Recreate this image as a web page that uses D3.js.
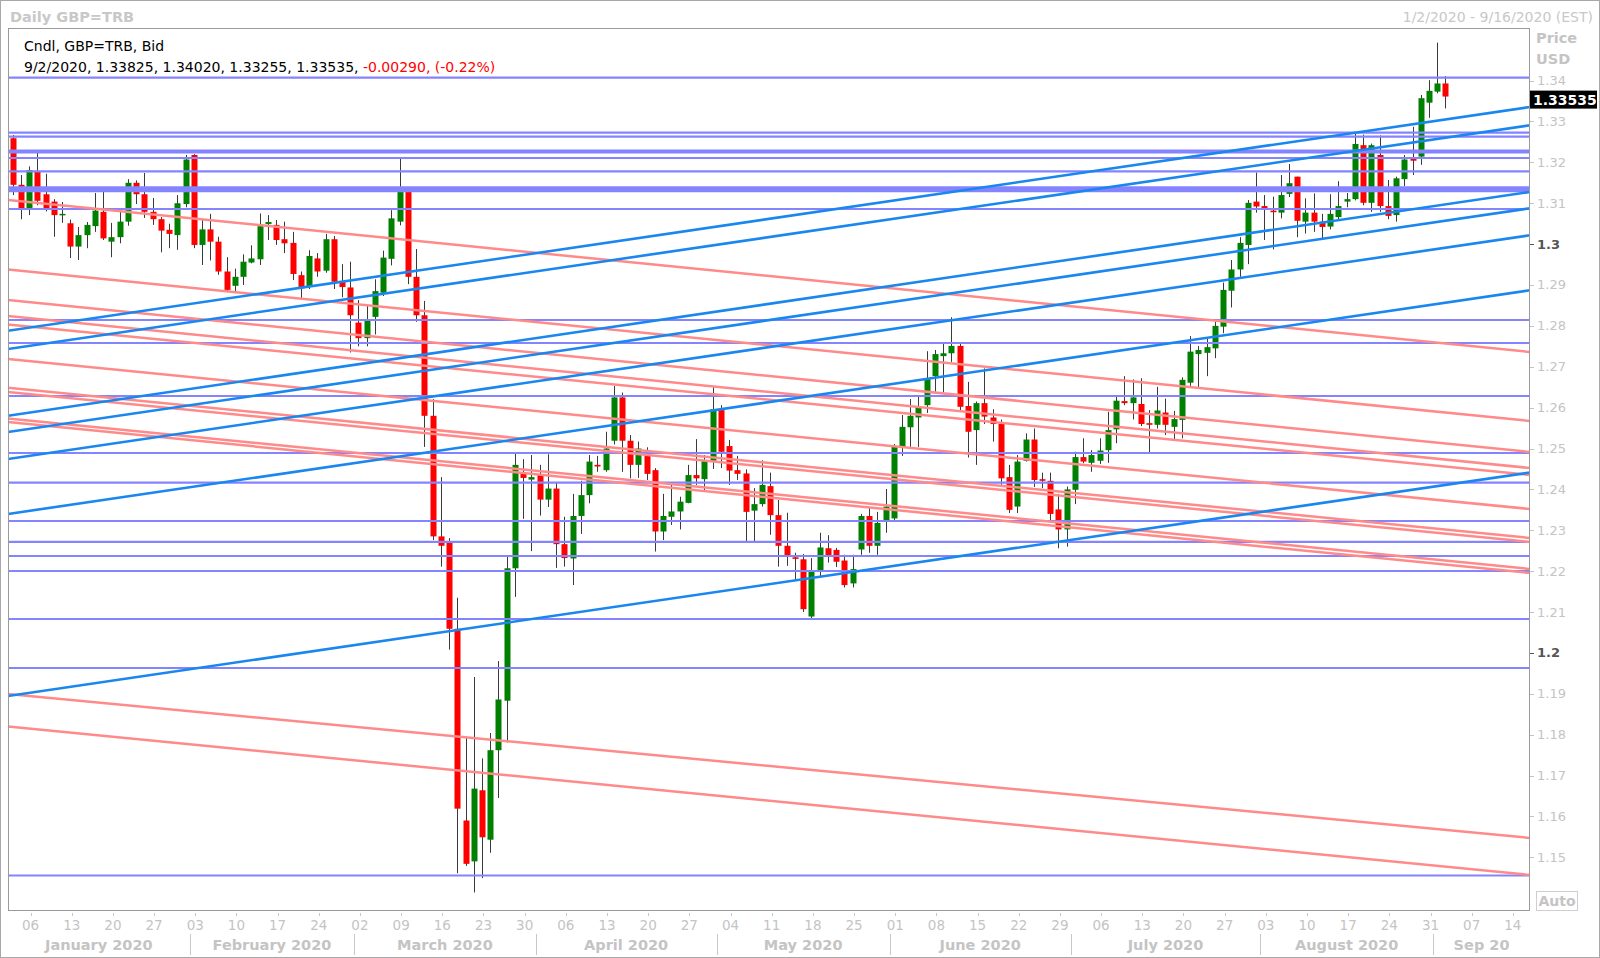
<!DOCTYPE html>
<html><head><meta charset="utf-8">
<script src="https://cdn.jsdelivr.net/npm/d3@7"></script>
<style>html,body{margin:0;padding:0;background:#fff;} svg{display:block;}</style>
</head><body>
<svg id="chart" width="1600" height="958"></svg>
<script>
// ---------------- DATA ----------------
const firstDay = "2020-01-02";
const lastAxisDay = "2020-09-16";
const open = [1.3259,1.3145,1.3086,1.3179,1.3122,1.3104,1.3071,1.3051,1.2994,1.3022,
1.3044,1.3079,1.3006,1.3017,1.3055,1.3150,1.3122,1.3079,1.3061,1.3035,
1.3022,1.3098,1.3218,1.2998,1.3036,1.3006,1.2933,1.2898,1.2920,1.2955,
1.2963,1.3049,1.3047,1.3012,1.3003,1.2924,1.2896,1.2965,1.2935,1.3012,
1.2907,1.2894,1.2808,1.2770,1.2822,1.2881,1.2964,1.3055,1.3128,1.2920,
1.2826,1.2580,1.2285,1.2269,1.2059,1.1590,1.1490,1.1664,1.1543,1.1762,
1.1883,1.2207,1.2442,1.2424,1.2437,1.2375,1.2402,1.2266,1.2231,1.2335,
1.2386,1.2460,1.2447,1.2519,1.2625,1.2519,1.2460,1.2484,1.2447,1.2297,
1.2333,1.2346,1.2367,1.2435,1.2425,1.2470,1.2594,1.2506,1.2447,1.2439,
1.2348,1.2364,1.2408,1.2337,1.2262,1.2234,1.2229,1.2089,1.2199,1.2256,
1.2252,1.2226,1.2170,1.2253,1.2335,1.2262,1.2325,1.2329,1.2504,1.2552,
1.2576,1.2606,1.2677,1.2726,1.2733,1.2751,1.2604,1.2545,1.2611,1.2576,
1.2560,1.2430,1.2358,1.2470,1.2522,1.2425,1.2421,1.2351,1.2302,1.2399,
1.2479,1.2465,1.2470,1.2496,1.2547,1.2616,1.2611,1.2609,1.2562,1.2558,
1.2588,1.2553,1.2570,1.2661,1.2731,1.2734,1.2745,1.2798,1.2886,1.2938,
1.2998,1.3104,1.3093,1.3082,1.3077,1.3123,1.3165,1.3055,1.3077,1.3055,
1.3043,1.3066,1.3104,1.3110,1.3242,1.3101,1.3218,1.3093,1.3071,1.3159,
1.3210,1.3214,1.3346,1.3373,1.3393];
const high = [1.3267,1.3169,1.3190,1.3223,1.3172,1.3110,1.3103,1.3060,1.3042,1.3054,
1.3125,1.3128,1.3052,1.3088,1.3159,1.3156,1.3174,1.3113,1.3066,1.3050,
1.3120,1.3218,1.3220,1.3059,1.3074,1.3018,1.2968,1.2940,1.2975,1.2997,
1.3075,1.3071,1.3059,1.3055,1.3030,1.2933,1.2985,1.2978,1.3025,1.3020,
1.2951,1.2957,1.2863,1.2849,1.2914,1.2984,1.3083,1.3213,1.3130,1.2988,
1.2861,1.2621,1.2430,1.2281,1.2135,1.1795,1.1941,1.1742,1.1804,1.1980,
1.2238,1.2489,1.2474,1.2484,1.2460,1.2486,1.2416,1.2333,1.2389,1.2421,
1.2484,1.2482,1.2541,1.2653,1.2637,1.2533,1.2517,1.2503,1.2452,1.2389,
1.2411,1.2382,1.2460,1.2523,1.2484,1.2650,1.2606,1.2521,1.2482,1.2449,
1.2403,1.2471,1.2441,1.2374,1.2343,1.2245,1.2242,1.2232,1.2294,1.2288,
1.2257,1.2240,1.2240,1.2340,1.2355,1.2345,1.2401,1.2511,1.2582,1.2621,
1.2626,1.2738,1.2741,1.2757,1.2821,1.2757,1.2663,1.2615,1.2696,1.2596,
1.2571,1.2460,1.2484,1.2537,1.2549,1.2441,1.2441,1.2389,1.2407,1.2492,
1.2525,1.2496,1.2525,1.2590,1.2627,1.2677,1.2669,1.2672,1.2594,1.2651,
1.2622,1.2592,1.2674,1.2775,1.2751,1.2770,1.2810,1.2906,1.2961,1.3017,
1.3108,1.3175,1.3120,1.3116,1.3169,1.3196,1.3165,1.3112,1.3124,1.3074,
1.3122,1.3154,1.3125,1.3270,1.3268,1.3246,1.3266,1.3157,1.3165,1.3218,
1.3287,1.3365,1.3401,1.3493,1.3411];
const low = [1.3120,1.3061,1.3071,1.3095,1.3080,1.3018,1.3052,1.2966,1.2961,1.2990,
1.3030,1.3010,1.2968,1.3002,1.3045,1.3098,1.3064,1.3047,1.2980,1.2990,
1.2986,1.3090,1.2990,1.2949,1.2960,1.2925,1.2883,1.2880,1.2900,1.2953,
1.2949,1.3010,1.2998,1.2978,1.2912,1.2867,1.2890,1.2920,1.2930,1.2890,
1.2870,1.2735,1.2750,1.2750,1.2779,1.2873,1.2948,1.3046,1.2902,1.2810,
1.2504,1.2276,1.2211,1.2008,1.1461,1.1479,1.1414,1.1449,1.1511,1.1645,
1.1781,1.2137,1.2328,1.2249,1.2336,1.2357,1.2208,1.2211,1.2166,1.2291,
1.2366,1.2443,1.2443,1.2510,1.2443,1.2427,1.2428,1.2423,1.2248,1.2276,
1.2313,1.2302,1.2366,1.2411,1.2397,1.2450,1.2452,1.2411,1.2423,1.2272,
1.2272,1.2358,1.2289,1.2211,1.2213,1.2178,1.2100,1.2085,1.2184,1.2221,
1.2210,1.2160,1.2160,1.2240,1.2245,1.2240,1.2294,1.2320,1.2482,1.2504,
1.2504,1.2587,1.2639,1.2638,1.2712,1.2590,1.2478,1.2460,1.2560,1.2517,
1.2411,1.2342,1.2342,1.2468,1.2406,1.2403,1.2325,1.2256,1.2260,1.2364,
1.2464,1.2443,1.2462,1.2465,1.2513,1.2606,1.2571,1.2555,1.2490,1.2549,
1.2533,1.2519,1.2525,1.2653,1.2650,1.2677,1.2721,1.2782,1.2845,1.2920,
1.2951,1.3077,1.3010,1.2987,1.3063,1.3115,1.3017,1.3026,1.3030,1.3014,
1.3036,1.3059,1.3090,1.3107,1.3095,1.3079,1.3079,1.3061,1.3055,1.3142,
1.3169,1.3194,1.3309,1.3369,1.3332];
const close = [1.3145,1.3088,1.3181,1.3106,1.3088,1.3071,1.3074,1.2994,1.3022,1.3047,
1.3082,1.3014,1.3017,1.3055,1.3150,1.3122,1.3079,1.3061,1.3033,1.3025,
1.3100,1.3207,1.2998,1.3036,1.3006,1.2933,1.2888,1.2920,1.2957,1.2965,
1.3044,1.3054,1.3010,1.3002,1.2927,1.2892,1.2971,1.2933,1.3012,1.2908,
1.2895,1.2826,1.2770,1.2814,1.2885,1.2967,1.3063,1.3128,1.2920,1.2826,
1.2580,1.2285,1.2262,1.2059,1.1619,1.1484,1.1668,1.1549,1.1762,1.1886,
1.2207,1.2460,1.2428,1.2430,1.2375,1.2402,1.2266,1.2232,1.2335,1.2386,
1.2468,1.2456,1.2500,1.2625,1.2519,1.2460,1.2500,1.2438,1.2297,1.2335,
1.2346,1.2370,1.2435,1.2427,1.2472,1.2596,1.2492,1.2446,1.2438,1.2345,
1.2364,1.2411,1.2337,1.2262,1.2236,1.2230,1.2107,1.2199,1.2258,1.2237,
1.2223,1.2166,1.2205,1.2335,1.2262,1.2318,1.2358,1.2504,1.2553,1.2580,
1.2601,1.2669,1.2731,1.2733,1.2751,1.2602,1.2541,1.2611,1.2578,1.2560,
1.2427,1.2350,1.2468,1.2522,1.2423,1.2421,1.2340,1.2302,1.2400,1.2479,
1.2468,1.2484,1.2495,1.2545,1.2617,1.2611,1.2625,1.2560,1.2558,1.2593,
1.2558,1.2572,1.2668,1.2737,1.2741,1.2748,1.2800,1.2888,1.2938,1.3003,
1.3101,1.3092,1.3088,1.3078,1.3120,1.3149,1.3057,1.3077,1.3055,1.3042,
1.3074,1.3093,1.3110,1.3245,1.3101,1.3242,1.3093,1.3069,1.3161,1.3207,
1.3204,1.3357,1.3375,1.3393,1.3361];

const priceTicks = [1.34,1.33,1.32,1.31,1.30,1.29,1.28,1.27,1.26,1.25,1.24,1.23,1.22,1.21,1.20,1.19,1.18,1.17,1.16,1.15];
const boldTicks = [1.30, 1.20];
const monthNames = ["January 2020","February 2020","March 2020","April 2020","May 2020","June 2020","July 2020","August 2020","Sep 20"];

// horizontal support / resistance levels
const hLevels = [1.34073,1.32726,1.32628,1.32107,1.31779,1.30859,1.28144,1.27581,1.26285,1.24890,1.24166,1.23227,1.22718,1.22371,1.22004,1.20830,1.19631,1.14555];
const hBands = [1.32266, 1.31343];

// trend lines: price at first day (Jan 2) and at last axis day (Sep 16)
const blueStart = [1.27897,1.27452,1.25818,1.25421,1.24761,1.23415,1.18963];
const blueEnd   = [1.33347,1.32899,1.31268,1.30869,1.30208,1.28863,1.24406];
const redStart  = [1.31067,1.29369,1.28621,1.28229,1.28022,1.27178,1.26473,1.26370,1.25725,1.25637,1.18985,1.18188];
const redEnd    = [1.27366,1.25678,1.24920,1.24528,1.24357,1.23525,1.22816,1.22718,1.22058,1.21960,1.15478,1.14573];

const titleText = "Daily GBP=TRB";
const rangeText = "1/2/2020 - 9/16/2020 (EST)";
const legend1 = "Cndl, GBP=TRB, Bid";
const legend2 = "9/2/2020, 1.33825, 1.34020, 1.33255, 1.33535, ";
const legendChange = "-0.00290, (-0.22%)";
const lastPriceText = "1.33535";
const lastPrice = 1.33535;

// ---------------- LAYOUT ----------------
const W = 1600, H = 958;
const plot = {l: 8, r: 1530, t: 28, b: 910};
const slot = 8.235;
const FONT = "DejaVu Sans, Verdana, sans-serif";
const svg = d3.select("#chart");

const parse = d3.utcParse("%Y-%m-%d");
const fmt = d3.utcFormat("%Y-%m-%d");
const days = d3.utcDay.range(parse(firstDay), d3.utcDay.offset(parse(lastAxisDay), 1))
  .filter(d => d.getUTCDay() !== 0 && d.getUTCDay() !== 6);
const x = d3.scaleBand().domain(days.map(fmt)).range([8.48, 8.48 + days.length * slot]).padding(0);
const bw = x.bandwidth();
const cx = d => x(fmt(d)) + bw / 2;
const y = d3.scaleLinear().domain([1.34, 1.15]).range([80.6, 857.3]);

const bars = open.map((o, i) => ({date: days[i], o, h: high[i], l: low[i], c: close[i]}));

// outer frame
svg.append("rect").attr("x", 0.5).attr("y", 0.5).attr("width", W - 1).attr("height", H - 1)
  .attr("fill", "#fff").attr("stroke", "#a8a8a8");

// clip
svg.append("clipPath").attr("id", "clip").append("rect")
  .attr("x", plot.l).attr("y", plot.t).attr("width", plot.r - plot.l).attr("height", plot.b - plot.t);

const g = svg.append("g").attr("clip-path", "url(#clip)");

// candles
const cg = g.append("g");
cg.selectAll("line.wick").data(bars).join("line").attr("class", "wick")
  .attr("x1", d => Math.round(cx(d.date)) + 0.5).attr("x2", d => Math.round(cx(d.date)) + 0.5)
  .attr("y1", d => y(d.h)).attr("y2", d => y(d.l))
  .attr("stroke", "#3a3a3a").attr("stroke-width", 1);
cg.selectAll("rect.body").data(bars).join("rect").attr("class", "body")
  .attr("x", d => Math.round(cx(d.date)) + 0.5 - 3)
  .attr("width", 6)
  .attr("y", d => y(Math.max(d.o, d.c)))
  .attr("height", d => Math.max(1.5, Math.abs(y(d.o) - y(d.c))))
  .attr("fill", d => d.c >= d.o ? "#008000" : "#ff0000");

// horizontal levels
g.selectAll("line.hl").data(hLevels).join("line").attr("class", "hl")
  .attr("x1", plot.l).attr("x2", plot.r).attr("y1", d => y(d)).attr("y2", d => y(d))
  .attr("stroke", "#8484ff").attr("stroke-width", 2.2);
g.selectAll("line.hb").data(hBands).join("line").attr("class", "hb")
  .attr("x1", plot.l).attr("x2", plot.r).attr("y1", d => y(d)).attr("y2", d => y(d))
  .attr("stroke", "#8484ff").attr("stroke-width", (d, i) => i === 0 ? 4 : 6);

// trend lines (extended across plot)
function trend(p0, p1) {
  const x0 = cx(days[0]), x1 = cx(days[days.length - 1]);
  const y0 = y(p0), y1 = y(p1);
  const s = (y1 - y0) / (x1 - x0);
  return {x1: plot.l, y1: y0 + s * (plot.l - x0), x2: plot.r, y2: y0 + s * (plot.r - x0)};
}
const reds = redStart.map((p, i) => trend(p, redEnd[i]));
const blues = blueStart.map((p, i) => trend(p, blueEnd[i]));
g.selectAll("line.rt").data(reds).join("line").attr("class", "rt")
  .attr("x1", d => d.x1).attr("y1", d => d.y1).attr("x2", d => d.x2).attr("y2", d => d.y2)
  .attr("stroke", "#ff8a8a").attr("stroke-width", 2.5);
g.selectAll("line.bt").data(blues).join("line").attr("class", "bt")
  .attr("x1", d => d.x1).attr("y1", d => d.y1).attr("x2", d => d.x2).attr("y2", d => d.y2)
  .attr("stroke", "#1a86f0").attr("stroke-width", 2.6);

// plot frame
svg.append("rect").attr("x", plot.l + 0.5).attr("y", plot.t + 0.5)
  .attr("width", plot.r - plot.l - 1).attr("height", plot.b - plot.t)
  .attr("fill", "none").attr("stroke", "#9a9a9a");

// header
svg.append("text").attr("x", 10).attr("y", 22).attr("font-family", FONT).attr("font-size", 14.5)
  .attr("font-weight", "bold").attr("fill", "#c8c8c8").text(titleText);
svg.append("text").attr("x", 1593).attr("y", 22).attr("text-anchor", "end").attr("font-family", FONT)
  .attr("font-size", 14).attr("fill", "#c8c8c8").text(rangeText);
svg.append("text").attr("x", 24).attr("y", 51).attr("font-family", FONT).attr("font-size", 14)
  .attr("fill", "#000").text(legend1);
const l2 = svg.append("text").attr("x", 24).attr("y", 72).attr("font-family", FONT).attr("font-size", 14)
  .attr("fill", "#000");
l2.append("tspan").text(legend2);
l2.append("tspan").attr("fill", "#ff0000").text(legendChange);

// right axis
const ax = svg.append("g").attr("font-family", FONT);
ax.append("text").attr("x", 1536).attr("y", 43).attr("font-size", 14.5).attr("font-weight", "bold")
  .attr("fill", "#c4c4c4").text("Price");
ax.append("text").attr("x", 1536).attr("y", 64).attr("font-size", 14.5).attr("font-weight", "bold")
  .attr("fill", "#c4c4c4").text("USD");
ax.selectAll("line.tk").data(priceTicks).join("line").attr("class", "tk")
  .attr("x1", plot.r).attr("x2", plot.r + 4).attr("y1", d => Math.round(y(d)) + 0.5).attr("y2", d => Math.round(y(d)) + 0.5)
  .attr("stroke", d => boldTicks.some(b => Math.abs(b - d) < 1e-9) ? "#555" : "#c4c4c4");
ax.selectAll("text.tl").data(priceTicks).join("text").attr("class", "tl")
  .attr("x", 1537).attr("y", d => y(d) + 4.5).attr("font-size", 13)
  .attr("font-weight", d => boldTicks.some(b => Math.abs(b - d) < 1e-9) ? "bold" : "normal")
  .attr("fill", d => boldTicks.some(b => Math.abs(b - d) < 1e-9) ? "#555" : "#c4c4c4")
  .text(d => d3.format("")(+d.toFixed(2)));
// last price box
ax.append("rect").attr("x", plot.r).attr("y", y(lastPrice) - 9).attr("width", 67).attr("height", 18).attr("fill", "#000");
ax.append("text").attr("x", plot.r + 3).attr("y", y(lastPrice) + 5).attr("font-size", 14).attr("font-weight", "bold")
  .attr("fill", "#fff").text(lastPriceText);
// Auto box
ax.append("rect").attr("x", 1536.5).attr("y", 891.5).attr("width", 41).attr("height", 19).attr("fill", "#fff").attr("stroke", "#cfcfcf");
ax.append("text").attr("x", 1557).attr("y", 906).attr("text-anchor", "middle").attr("font-size", 14)
  .attr("font-weight", "bold").attr("fill", "#c4c4c4").text("Auto");

// bottom axis
const bx = svg.append("g").attr("font-family", FONT);
const mondays = days.filter(d => d.getUTCDay() === 1);
bx.selectAll("line.wt").data(mondays).join("line").attr("class", "wt")
  .attr("x1", d => Math.round(cx(d) + 1.5) + 0.5).attr("x2", d => Math.round(cx(d) + 1.5) + 0.5)
  .attr("y1", plot.b + 3).attr("y2", plot.b + 6).attr("stroke", "#c8c8c8");
bx.selectAll("text.wl").data(mondays).join("text").attr("class", "wl")
  .attr("x", d => cx(d) + 1.5).attr("y", 929.5).attr("text-anchor", "middle")
  .attr("font-size", 13.5).attr("fill", "#c4c4c4").text(d3.utcFormat("%d"));

const monthStarts = [];
days.forEach((d, i) => { if (i === 0 || d.getUTCMonth() !== days[i - 1].getUTCMonth()) monthStarts.push(i); });
const bounds = monthStarts.map((i, k) => k === 0 ? plot.l : x(fmt(days[i])));
bounds.push(plot.r);
bx.selectAll("line.ms").data(bounds.slice(1, -1)).join("line").attr("class", "ms")
  .attr("x1", d => Math.round(d) + 0.5).attr("x2", d => Math.round(d) + 0.5)
  .attr("y1", 934).attr("y2", 955).attr("stroke", "#c8c8c8");
bx.selectAll("text.ml").data(monthNames).join("text").attr("class", "ml")
  .attr("x", (d, k) => (bounds[k] + bounds[k + 1]) / 2).attr("y", 949.5).attr("text-anchor", "middle")
  .attr("font-size", 14.5).attr("font-weight", "bold").attr("fill", "#c4c4c4").text(d => d);
</script>
</body></html>
